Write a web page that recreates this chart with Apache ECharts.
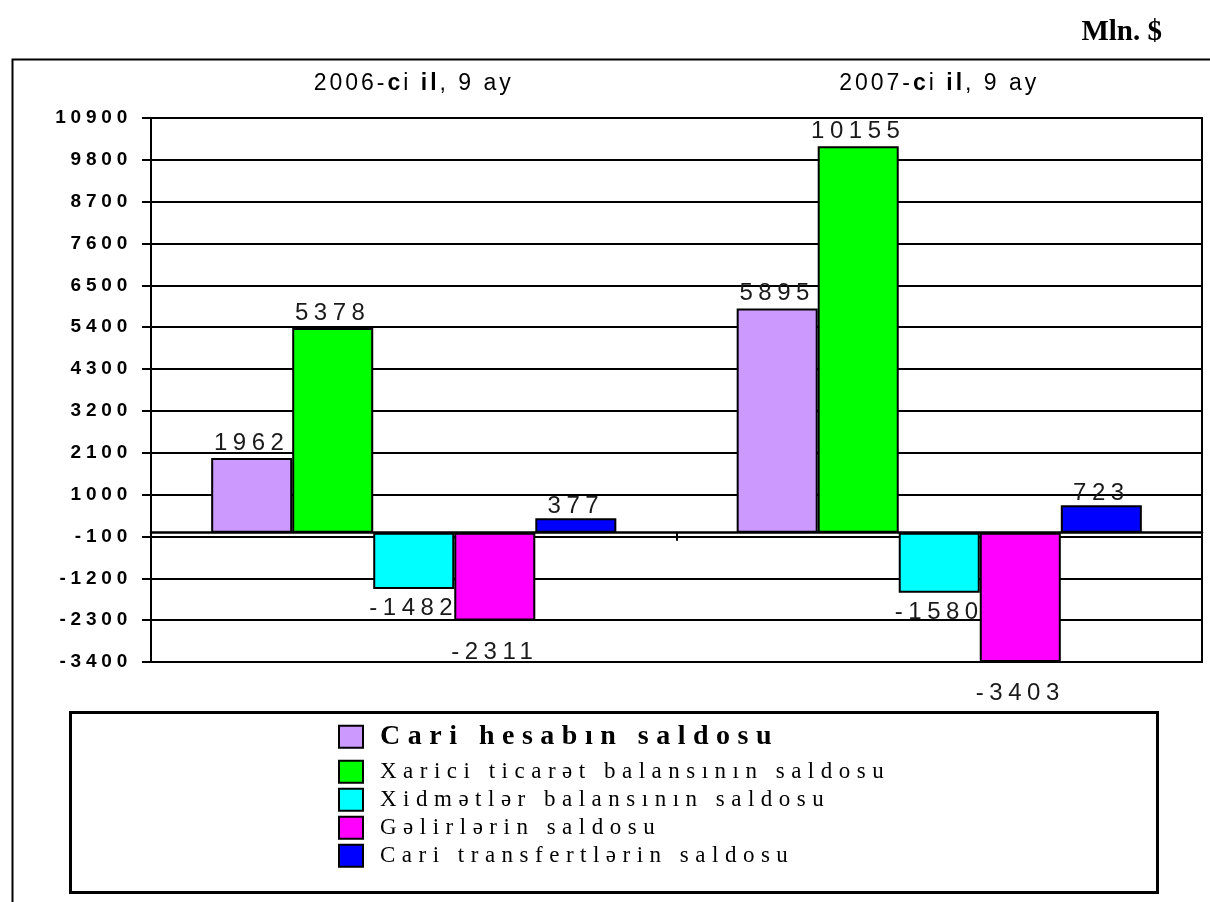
<!DOCTYPE html>
<html><head><meta charset="utf-8">
<script src="https://cdn.jsdelivr.net/npm/echarts@6/dist/echarts.min.js"></script>
<style>html,body{margin:0;padding:0;background:#fff}#c{width:1210px;height:902px}</style>
</head><body><div id="c"></div>
<script>
// ---- data ----
const categories = ['2006-ci il, 9 ay', '2007-ci il, 9 ay'];
const seriesNames = ['Cari hesabın saldosu', 'Xarici ticarət balansının saldosu', 'Xidmətlər balansının saldosu', 'Gəlirlərin saldosu', 'Cari transfertlərin saldosu'];
const cariHesab = [1962, 5895];
const xariciTicaret = [5378, 10155];
const xidmetler = [-1482, -1580];
const gelirler = [-2311, -3403];
const cariTransfert = [377, 723];
const yMin = -3400, yMax = 10900, yStep = 1100;
const unitLabel = 'Mln. $';

// ---- styles ----
const colors = ['#CC99FF', '#00FF00', '#00FFFF', '#FF00FF', '#0000FF'];
const labelDist = [0, 0, 5, 17, -3];

// letter spacing emulation (the original text is widely tracked)
function spacingFor(font) {
  const m = /(\d+(?:\.\d+)?)px/.exec(font || '');
  if (!m) return 0;
  const size = +m[1], serif = /Serif/i.test(font);
  if (serif) { if (size === 28) return 7.5; if (size === 23) return 6.5; return 0; }
  if (size === 19) return 4.8;
  if (size === 24) return 5.5;
  if (size === 23) return 3;
  return 0;
}
['fillText', 'strokeText', 'measureText'].forEach(fn => {
  const orig = CanvasRenderingContext2D.prototype[fn];
  CanvasRenderingContext2D.prototype[fn] = function (...args) {
    if (!('letterSpacing' in this)) return orig.apply(this, args);
    const prev = this.letterSpacing;
    this.letterSpacing = spacingFor(this.font) + 'px';
    const r = orig.apply(this, args);
    this.letterSpacing = prev;
    return r;
  };
});

const SANS = 'Liberation Sans';
const SERIF = 'Liberation Serif';
const allData = [cariHesab, xariciTicaret, xidmetler, gelirler, cariTransfert];

const series = allData.map((arr, i) => ({
  name: seriesNames[i],
  type: 'bar',
  xAxisIndex: 0,
  barGap: '0%',
  barCategoryGap: '22.9%',
  itemStyle: { color: colors[i], borderColor: '#000', borderWidth: 2 },
  label: { show: true, fontFamily: SANS, fontSize: 24, color: '#1a1a1a', distance: labelDist[i] },
  data: arr.map(v => ({ value: v, label: { position: v >= 0 ? 'top' : 'bottom' } })),
  emphasis: { disabled: true }
}));

const chart = echarts.init(document.getElementById('c'), null, { renderer: 'canvas' });
chart.setOption({
  animation: false,
  backgroundColor: '#fff',
  grid: { left: 151, right: 8, top: 118, bottom: 240, show: true, borderColor: '#000', borderWidth: 2, containLabel: false },
  xAxis: [
    {
      type: 'category', data: categories, position: 'bottom',
      axisLine: { show: true, onZero: true, onZeroAxisIndex: 0, lineStyle: { color: '#000', width: 2.5 } },
      axisTick: { show: true, length: 8, lineStyle: { color: '#000', width: 2 } },
      axisLabel: { show: false },
      splitLine: { show: false }
    },
    {
      type: 'category', data: categories, position: 'top',
      axisLine: { show: false, onZero: false }, axisTick: { show: false },
      axisLabel: {
        margin: 21, interval: 0, hideOverlap: false, fontFamily: SANS, fontSize: 23, color: '#000',
        formatter: v => {
          const m = v.match(/^(.*-)(c)(i\s)(il)(.*)$/);
          return m ? `{n|${m[1]}}{b|${m[2]}}{n|${m[3]}}{b|${m[4]}}{n|${m[5]}}` : v;
        },
        rich: {
          n: { fontFamily: SANS, fontSize: 23, color: '#000' },
          b: { fontFamily: SANS, fontSize: 23, fontWeight: 'bold', color: '#000' }
        }
      },
      splitLine: { show: false }
    }
  ],
  yAxis: {
    type: 'value', min: yMin, max: yMax, interval: yStep,
    axisLine: { show: true, onZero: false, lineStyle: { color: '#000', width: 2 } },
    axisTick: { show: true, length: 9, lineStyle: { color: '#000', width: 2 } },
    axisLabel: { fontFamily: SANS, fontSize: 19, fontWeight: 'bold', color: '#000', margin: 19, formatter: v => String(v) },
    splitLine: { show: true, lineStyle: { color: '#000', width: 2 } }
  },
  legend: {
    orient: 'vertical', left: 333, top: 710, itemGap: -1.5,
    itemWidth: 24, itemHeight: 22, icon: 'rect',
    data: seriesNames,
    formatter: name => name === seriesNames[0] ? `{b|${name}}` : `{n|${name}}`,
    textStyle: {
      rich: {
        b: { fontFamily: SERIF, fontSize: 28, fontWeight: 'bold', color: '#000', lineHeight: 50, padding: [4, 0, 4, 12] },
        n: { fontFamily: SERIF, fontSize: 23, color: '#000', lineHeight: 23, padding: [0, 0, 0, 12] }
      }
    },
    selectedMode: false
  },
  graphic: [
    { type: 'rect', left: 10, top: 57, shape: { width: 1220, height: 900 }, style: { fill: 'none', stroke: '#000', lineWidth: 2 }, silent: true, z: -1 },
    { type: 'rect', left: 68, top: 710, shape: { width: 1087, height: 180 }, style: { fill: 'none', stroke: '#000', lineWidth: 3 }, silent: true },
    { type: 'text', right: 48, top: 18, style: { text: unitLabel, font: 'bold 29px "Liberation Serif"', fill: '#000' }, silent: true }
  ],
  series
});
</script></body></html>
